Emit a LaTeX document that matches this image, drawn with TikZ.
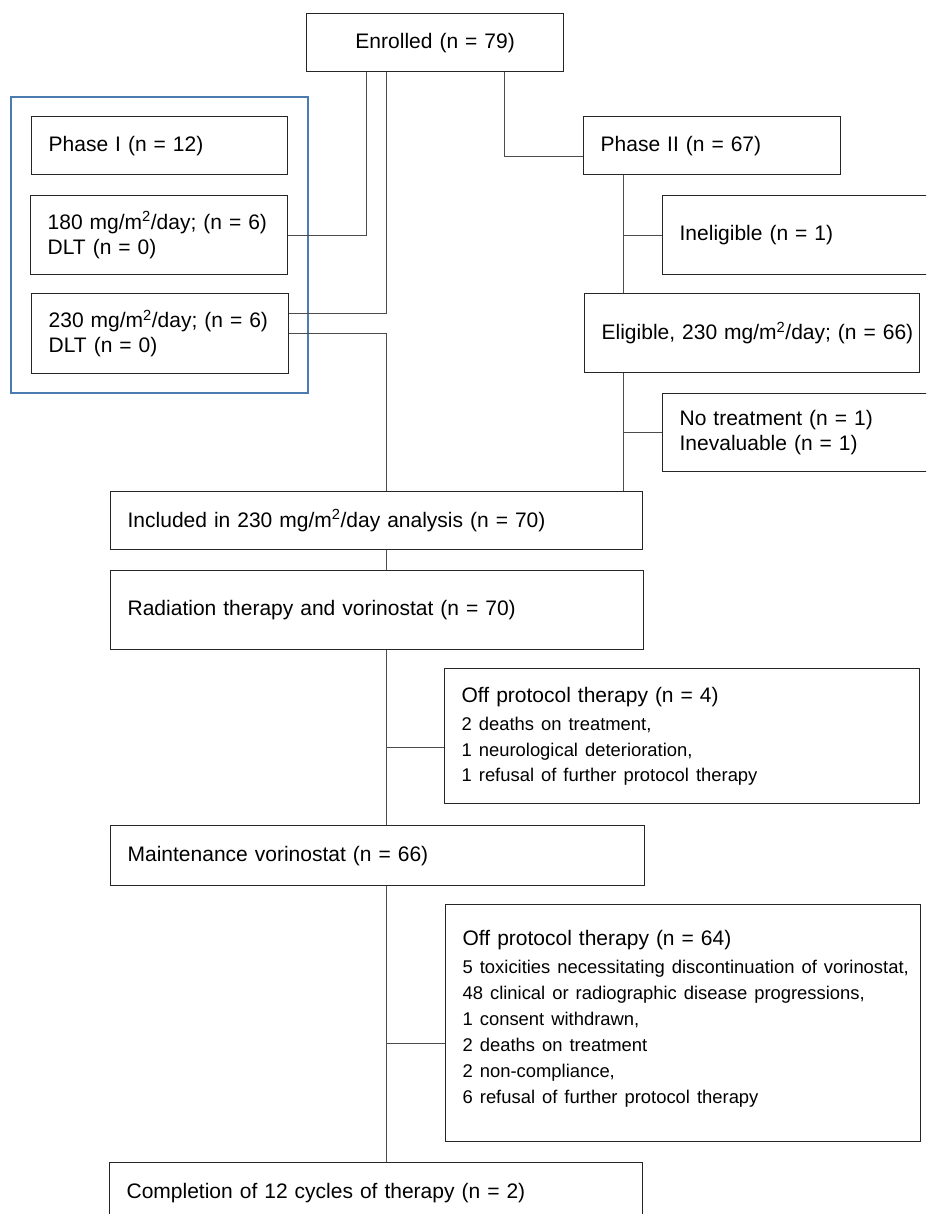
\documentclass[tikz,border=0pt]{standalone}
\usepackage{fontspec}
\setmainfont{Liberation Sans}
\usetikzlibrary{fit}
\definecolor{phaseblue}{RGB}{74,124,176}
\newcommand\boxfont{\fontsize{21}{25}\selectfont}
\newcommand\listfont{\fontsize{18.4}{26}\selectfont}
\newcommand\dose{mg/m\textsuperscript{2}/day}

\begin{document}
\begin{tikzpicture}[x=1pt,y=-1pt,
    box/.style={draw=black!85, line width=1.3pt, anchor=north west, align=left,
      inner xsep=17pt, inner ysep=0pt, font=\boxfont},
    link/.style={draw=black!70, line width=0.9pt},
    phaseframe/.style={draw=phaseblue, line width=1.8pt, inner sep=19pt}]
    \useasboundingbox (0,0) rectangle (926,1214);
    \clip (0,0) rectangle (926,1214);
    %Enrolment
    \node[box, align=center, text width=223pt, minimum height=58pt] (enrol) at (306,13) {Enrolled (n = 79)};
    %Phase I
    \node[box, text width=222pt, minimum height=58pt] (phaseone) at (31,116) {Phase I (n = 12)};
    \node[box, text width=223pt, minimum height=79pt] (lowdose) at (30,195) {180 \dose; (n = 6)\\DLT (n = 0)};
    \node[box, text width=223pt, minimum height=80pt] (highdose) at (31,293) {230 \dose; (n = 6)\\DLT (n = 0)};
    \node[phaseframe, fit=(phaseone)(lowdose)(highdose)] (phaseonebox) {};
    %Phase II
    \node[box, text width=223pt, minimum height=58pt] (phasetwo) at (583,116) {Phase II (n = 67)};
    \node[box, text width=266pt, minimum height=79pt] (inelig) at (662,195) {Ineligible (n = 1)};
    \node[box, text width=301pt, minimum height=79pt] (elig) at (584,293) {\mbox{Eligible, 230 \dose; (n = 66)}};
    \node[box, text width=266pt, minimum height=78pt] (notreat) at (662,393) {No treatment (n = 1)\\Inevaluable (n = 1)};
    %Treatment
    \node[box, text width=498pt, minimum height=58pt] (incl) at (110,491) {Included in 230 \dose\ analysis (n = 70)};
    \node[box, text width=499pt, minimum height=79pt] (radio) at (110,570) {Radiation therapy and vorinostat (n = 70)};
    \node[box, text width=441pt, minimum height=135pt] (offone) at (444,668) {Off protocol therapy (n = 4)\\[2pt]\listfont
      2 deaths on treatment,\\
      1 neurological deterioration,\\
      1 refusal of further protocol therapy};
    \node[box, text width=500pt, minimum height=60pt] (maint) at (110,825) {Maintenance vorinostat (n = 66)};
    \node[box, text width=441pt, minimum height=237pt] (offtwo) at (445,904) {Off protocol therapy (n = 64)\\[2pt]\listfont
      \mbox{5 toxicities necessitating discontinuation of vorinostat,}\\
      48 clinical or radiographic disease progressions,\\
      1 consent withdrawn,\\
      2 deaths on treatment\\
      2 non-compliance,\\
      6 refusal of further protocol therapy\\[-13pt]
      \mbox{}};
    \node[box, text width=499pt, minimum height=60pt] (compl) at (109,1162) {Completion of 12 cycles of therapy (n = 2)};
    %Connectors
    \coordinate (colA) at (366,0);
    \coordinate (colB) at (386,0);
    \coordinate (colC) at (504,0);
    \coordinate (colD) at (623,0);
    \coordinate (highin) at ([yshift=20pt]highdose.east);
    \coordinate (twoin) at ([yshift=-11pt]phasetwo.west);
    \coordinate (offonein) at ([yshift=-11.5pt]offone.west);
    \coordinate (offtwoin) at ([yshift=-20.5pt]offtwo.west);
    \draw[link] (enrol.south -| colA) |- (lowdose.east);
    \draw[link] (enrol.south -| colB) |- (highin);
    \draw[link] (enrol.south -| colC) |- (twoin);
    \draw[link] (highdose.east) -| (incl.north -| colB);
    \draw[link] (phasetwo.south -| colD) -- (elig.north -| colD);
    \draw[link] (inelig.west -| colD) -- (inelig.west);
    \draw[link] (elig.south -| colD) -- (incl.north -| colD);
    \draw[link] (notreat.west -| colD) -- (notreat.west);
    \draw[link] (incl.south -| colB) -- (radio.north -| colB);
    \draw[link] (radio.south -| colB) -- (maint.north -| colB);
    \draw[link] (offonein -| colB) -- (offonein);
    \draw[link] (maint.south -| colB) -- (compl.north -| colB);
    \draw[link] (offtwoin -| colB) -- (offtwoin);
\end{tikzpicture}
\end{document}
